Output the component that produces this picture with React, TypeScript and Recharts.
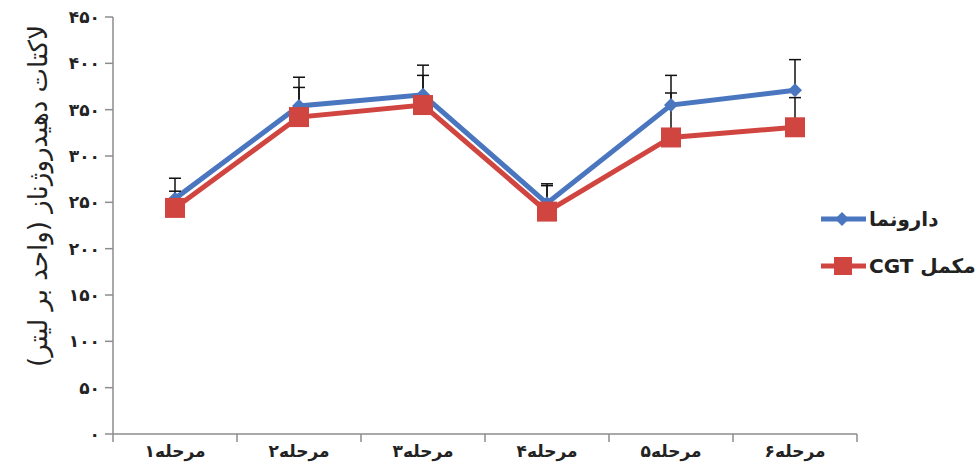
import { LineChart, Line, XAxis, YAxis, ErrorBar, Legend } from 'recharts';

const STAGES = ['مرحله۱', 'مرحله۲', 'مرحله۳', 'مرحله۴', 'مرحله۵', 'مرحله۶'];
const PLACEBO = [254, 354, 366, 249, 355, 371];
const PLACEBO_ERR = [22, 31, 32, 21, 32, 33];
const CGT = [244, 342, 355, 240, 320, 331];
const CGT_ERR = [18, 32, 32, 28, 48, 32];
const Y_TICKS = [0, 50, 100, 150, 200, 250, 300, 350, 400, 450];

const Y_TITLE = 'لاکتات دهیدروژناز (واحد بر لیتر)';
const PLACEBO_NAME = 'دارونما';
const CGT_NAME = 'مکمل CGT';

const BLUE = '#4a76c0';
const RED = '#d0453f';
const AXIS = '#8c8c8c';
const FONT = '"DejaVu Sans", sans-serif';

const W = 979;
const H = 466;
const MARGIN = { top: 17, right: 122, bottom: 0, left: 0 };
const Y_AXIS_W = 113;
const BAND = (W - MARGIN.right - Y_AXIS_W) / STAGES.length;

const data = STAGES.map((stage, i) => ({
  stage,
  placebo: PLACEBO[i],
  placeboErr: [0, PLACEBO_ERR[i]],
  cgt: CGT[i],
  cgtErr: [0, CGT_ERR[i]],
}));

const toPersian = (n: number) =>
  String(n).replace(/\d/g, (d) => '۰۱۲۳۴۵۶۷۸۹'[Number(d)]);

const Diamond = ({ cx, cy, fill, r = 7 }: any) => (
  <path d={`M${cx},${cy - r}L${cx + r},${cy}L${cx},${cy + r}L${cx - r},${cy}Z`} fill={fill} />
);

const Square = ({ cx, cy, fill, s = 10 }: any) => (
  <rect x={cx - s} y={cy - s} width={s * 2} height={s * 2} fill={fill} />
);

// category labels centred, tick marks on the band boundaries
const StageTick = ({ x, y, payload, index }: any) => (
  <g>
    <line x1={x - BAND / 2} x2={x - BAND / 2} y1={y} y2={y + 8} stroke={AXIS} strokeWidth={1.5} />
    {index === STAGES.length - 1 && (
      <line x1={x + BAND / 2} x2={x + BAND / 2} y1={y} y2={y + 8} stroke={AXIS} strokeWidth={1.5} />
    )}
    <text x={x} y={y + 23} textAnchor="middle" fontFamily={FONT} fontSize={17} fontWeight="bold" fill="#222">
      {payload.value}
    </text>
  </g>
);

const YTitle = () => (
  <text
    x={38}
    y={196}
    transform="rotate(-90, 38, 196)"
    textAnchor="middle"
    dominantBaseline="central"
    direction="rtl"
    fontFamily={FONT}
    fontSize={26}
    fill="#222"
  >
    {Y_TITLE}
  </text>
);

const LegendBox = () => (
  <div style={{ fontFamily: FONT, fontWeight: 'bold', fontSize: 20, color: '#222', whiteSpace: 'nowrap' }}>
    {[
      { name: PLACEBO_NAME, color: BLUE, square: false },
      { name: CGT_NAME, color: RED, square: true },
    ].map((s) => (
      <div key={s.name} style={{ display: 'flex', alignItems: 'center', height: 47 }}>
        <svg width={48} height={22} style={{ display: 'block', flex: 'none' }}>
          <line x1={1} x2={46} y1={11} y2={11} stroke={s.color} strokeWidth={5} />
          {s.square ? <Square cx={23} cy={11} s={9} fill={s.color} /> : <Diamond cx={22} cy={11} r={7} fill={s.color} />}
        </svg>
        <span dir="rtl" style={{ marginLeft: 1 }}>{s.name}</span>
      </div>
    ))}
  </div>
);

export default function App() {
  return (
    <div style={{ position: 'absolute', left: 0, top: 0, width: W, height: H, background: '#fff' }}>
      <LineChart width={W} height={H} data={data} margin={MARGIN}>
        <XAxis
          dataKey="stage"
          scale="band"
          height={32}
          stroke={AXIS}
          strokeWidth={1.5}
          tickLine={false}
          tickSize={0}
          tickMargin={0}
          tick={<StageTick />}
          interval={0}
        />
        <YAxis
          width={Y_AXIS_W}
          domain={[0, 450]}
          ticks={Y_TICKS}
          interval={0}
          stroke={AXIS}
          strokeWidth={1.5}
          tickSize={8}
          tickMargin={5}
          tickFormatter={toPersian}
          tick={{ fill: '#222', fontFamily: FONT, fontSize: 17, fontWeight: 'bold' }}
          label={{ content: () => <YTitle /> }}
        />
        <Legend
          layout="vertical"
          align="center"
          verticalAlign="middle"
          wrapperStyle={{ left: 820, top: 195, width: 158 }}
          content={() => <LegendBox />}
        />
        <Line
          type="linear"
          dataKey="placebo"
          name={PLACEBO_NAME}
          stroke={BLUE}
          strokeWidth={5}
          dot={(p: any) => <Diamond key={p.index} cx={p.cx} cy={p.cy} fill={BLUE} />}
          activeDot={false}
          isAnimationActive={false}
        >
          <ErrorBar dataKey="placeboErr" direction="y" width={6} stroke="#111" strokeWidth={1.5} isAnimationActive={false} />
        </Line>
        <Line
          type="linear"
          dataKey="cgt"
          name={CGT_NAME}
          stroke={RED}
          strokeWidth={5}
          dot={(p: any) => <Square key={p.index} cx={p.cx} cy={p.cy} fill={RED} />}
          activeDot={false}
          isAnimationActive={false}
        >
          <ErrorBar dataKey="cgtErr" direction="y" width={6} stroke="#111" strokeWidth={1.5} isAnimationActive={false} />
        </Line>
      </LineChart>
    </div>
  );
}
